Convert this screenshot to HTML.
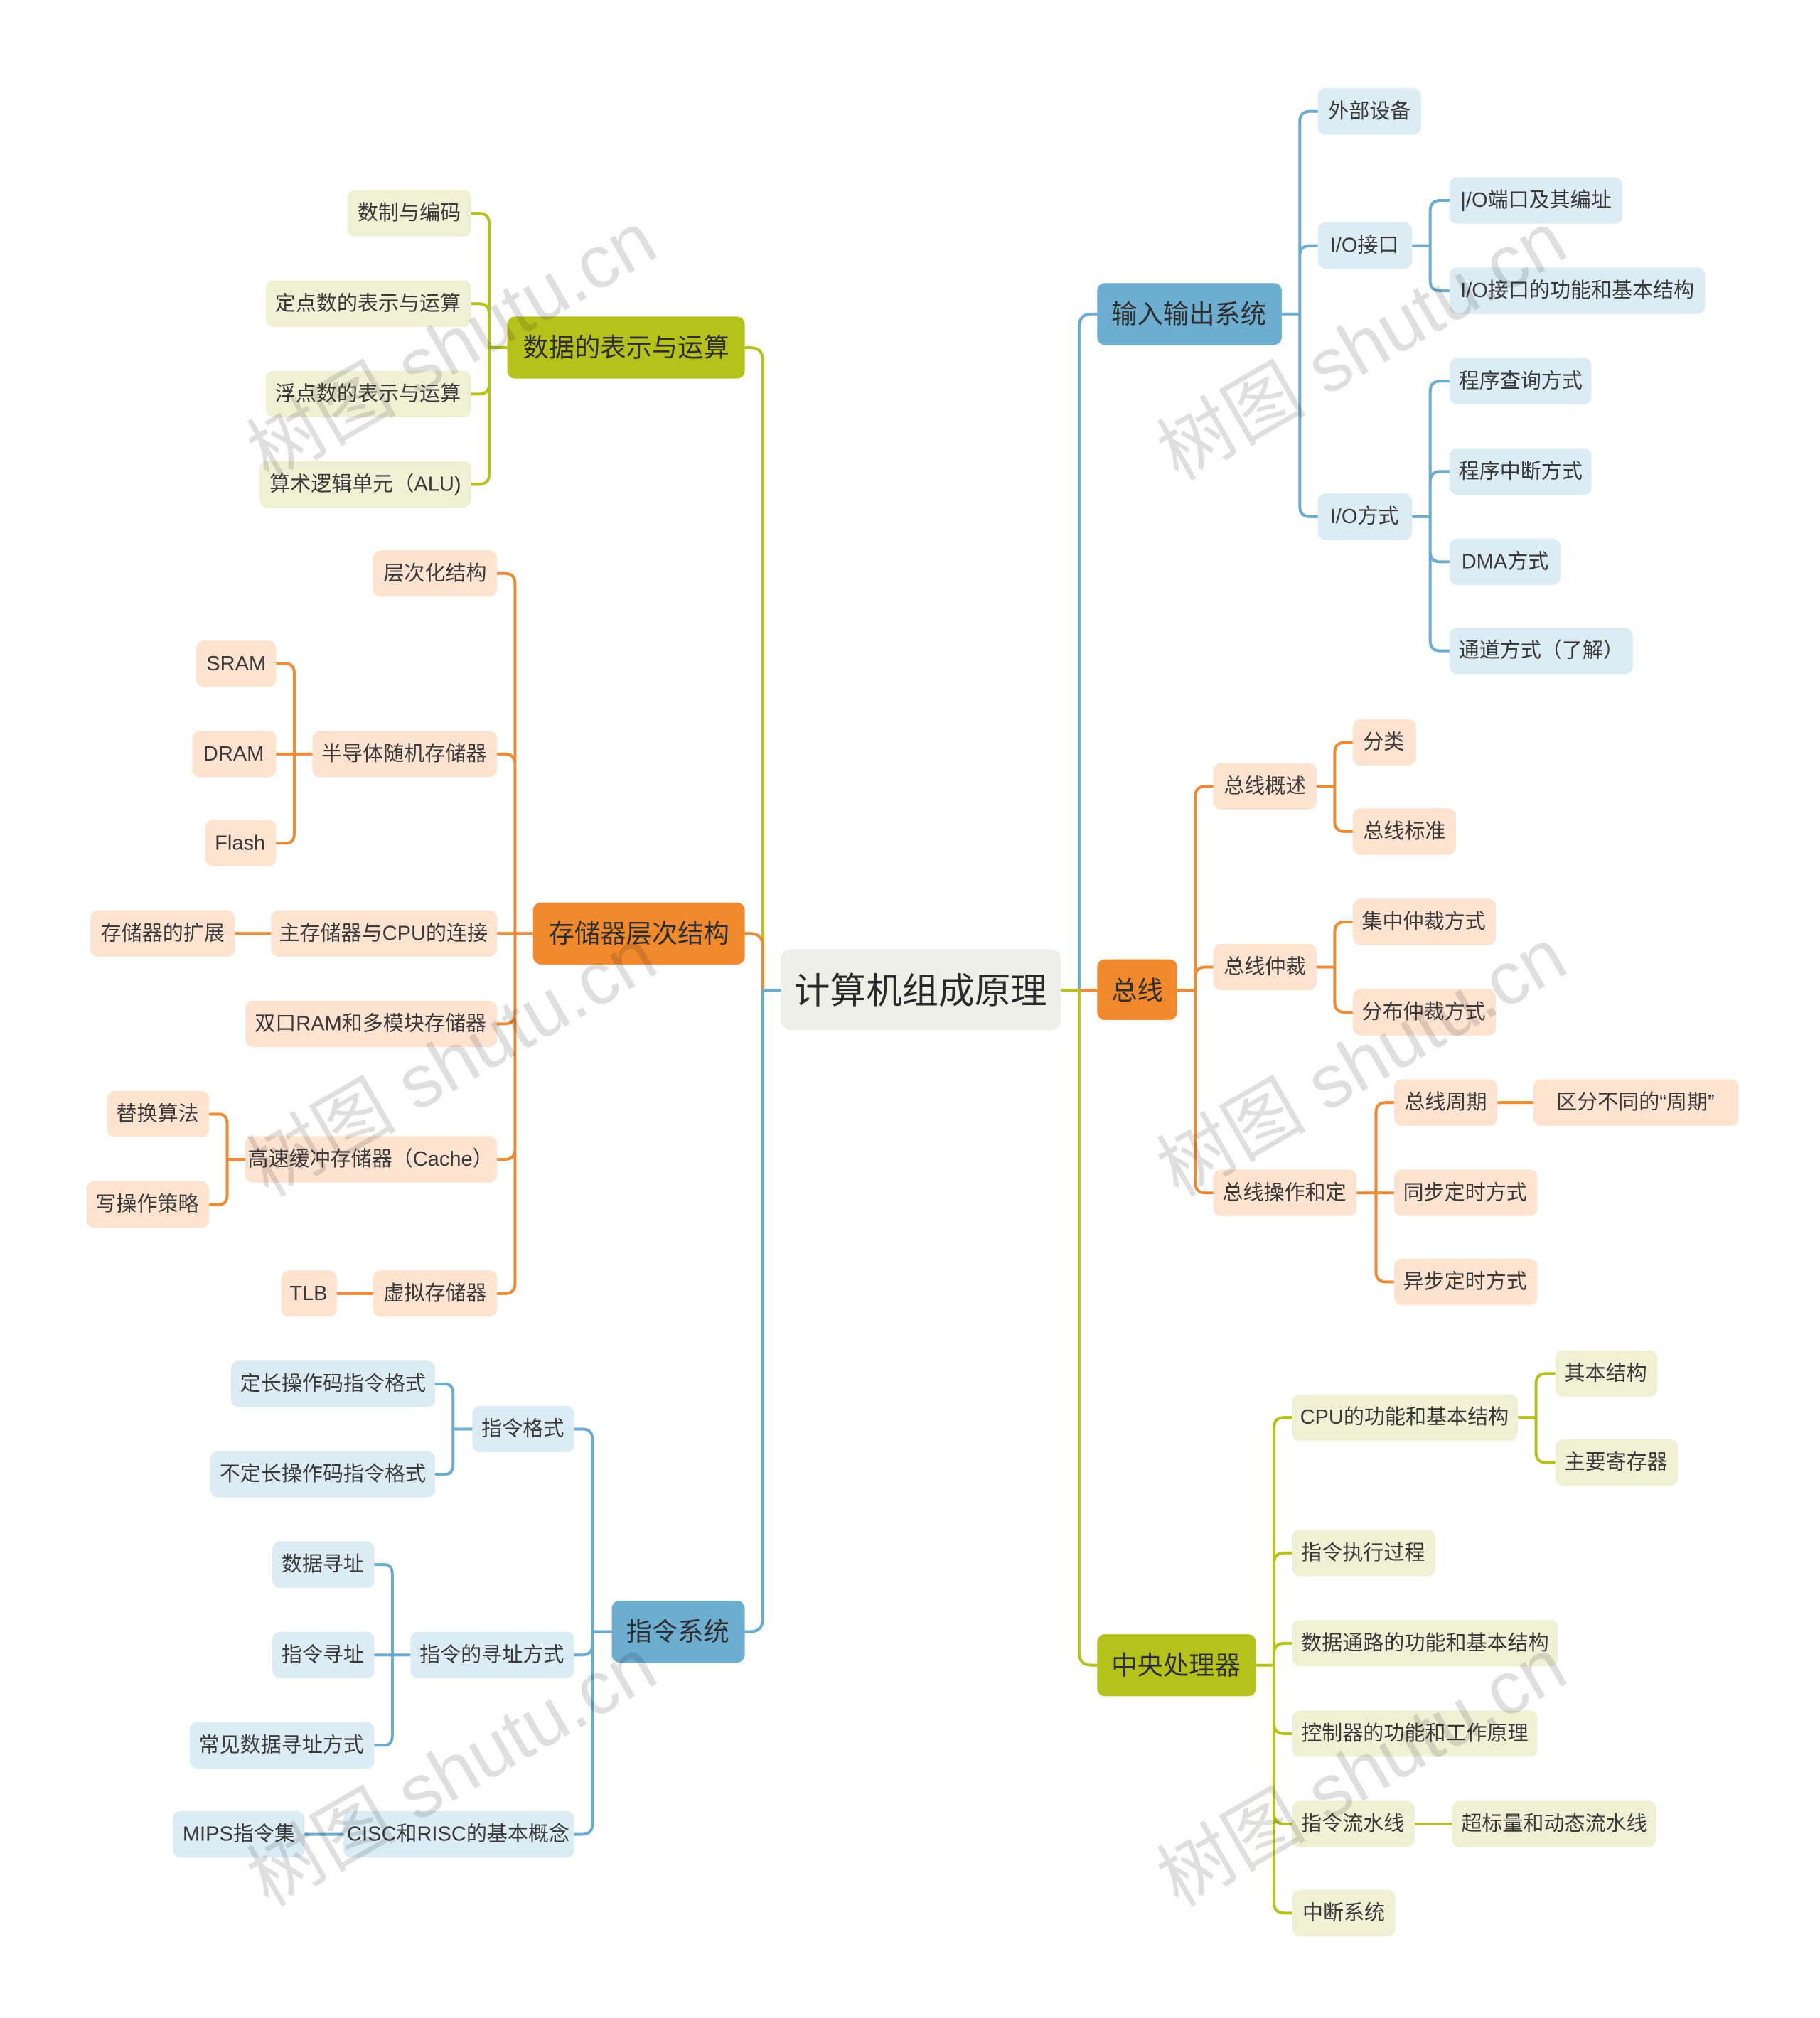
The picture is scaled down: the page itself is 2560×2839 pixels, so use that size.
<!DOCTYPE html>
<html><head><meta charset="utf-8">
<style>
html,body{margin:0;padding:0;background:#fff;}
svg{display:block;}
text{font-family:"Liberation Sans","Noto Sans CJK SC",sans-serif;}
.t{font-size:16px;fill:#3a3a3a;text-anchor:middle;}
.m{font-size:20px;fill:#2e2e2e;text-anchor:middle;}
.gl{fill:#eff0d4}.ol{fill:#fde3d0}.bl{fill:#dcecf5}
.lg{stroke:#b6c21c}.lo{stroke:#ee8a33}.lb{stroke:#6aaccf}
path{fill:none;stroke-width:2.2;}
.wm{font-size:58px;fill:#000;opacity:0.12;text-anchor:middle;}
</style></head><body>
<svg width="2560" height="2839" viewBox="0 0 1410 1563" xmlns="http://www.w3.org/2000/svg">
<!-- main connectors -->
<path class="lg" d="M605 767H598M598 767H591V279Q591 269 581 269H577"/>
<path class="lo" d="M598 767H591V733Q591 723 581 723H577"/>
<path class="lb" d="M605 767H591V1254Q591 1264 581 1264H577"/>
<path class="lb" d="M822 767H836V253Q836 243 846 243H850"/>
<path class="lo" d="M822 767H850"/>
<path class="lg" d="M822 767H836V1280Q836 1290 846 1290H850"/>

<!-- green left group -->
<path class="lg" d="M393 269H379V173Q379 165 371 165H365M379 269V243Q379 235 371 235H365M379 269V297Q379 305 371 305H365M379 269V367Q379 375 371 375H365"/>
<!-- orange left group -->
<path class="lo" d="M413 723H399V452Q399 444 391 444H385M399 723V592Q399 584 391 584H385M399 723H385M399 723V785Q399 793 391 793H385M399 723V890Q399 898 391 898H385M399 723V994Q399 1002 391 1002H385"/>
<path class="lo" d="M242 584H228V522Q228 514 222 514H214M228 584H214M228 584V645Q228 653 222 653H214"/>
<path class="lo" d="M210 723H182"/>
<path class="lo" d="M190 898H176V871Q176 863 170 863H162M176 898V925Q176 933 170 933H162"/>
<path class="lo" d="M289 1002H261"/>
<!-- blue left group -->
<path class="lb" d="M474 1264H459V1115Q459 1107 451 1107H445M459 1264V1274Q459 1282 451 1282H445M459 1264V1413Q459 1421 451 1421H445"/>
<path class="lb" d="M366 1107H351V1080Q351 1072 345 1072H337M351 1107V1134Q351 1142 345 1142H337"/>
<path class="lb" d="M318 1282H304V1220Q304 1212 298 1212H290M304 1282H290M304 1282V1344Q304 1352 298 1352H290"/>
<path class="lb" d="M266 1421H236"/>
<!-- blue right group -->
<path class="lb" d="M993 243H1007V94Q1007 86 1015 86H1021M1007 243V198Q1007 190 1015 190H1021M1007 243V392Q1007 400 1015 400H1021"/>
<path class="lb" d="M1094 190H1108V163Q1108 155 1116 155H1123M1108 190V217Q1108 225 1116 225H1123"/>
<path class="lb" d="M1094 400H1108V303Q1108 295 1116 295H1123M1108 400V373Q1108 365 1116 365H1123M1108 400V427Q1108 435 1116 435H1123M1108 400V496Q1108 504 1116 504H1123"/>
<!-- orange right group -->
<path class="lo" d="M912 767H926V617Q926 609 934 609H940M926 767V757Q926 749 934 749H940M926 767V916Q926 924 934 924H940"/>
<path class="lo" d="M1020 609H1034V583Q1034 575 1042 575H1048M1034 609V636Q1034 644 1042 644H1048"/>
<path class="lo" d="M1020 749H1034V722Q1034 714 1042 714H1048M1034 749V776Q1034 784 1042 784H1048"/>
<path class="lo" d="M1051 924H1066V862Q1066 854 1074 854H1080M1066 924H1080M1066 924V985Q1066 993 1074 993H1080"/>
<path class="lo" d="M1160 854H1188"/>
<!-- green right group -->
<path class="lg" d="M973 1290H987V1106Q987 1098 995 1098H1001M987 1290V1211Q987 1203 995 1203H1001M987 1290V1281Q987 1273 995 1273H1001M987 1290V1335Q987 1343 995 1343H1001M987 1290V1405Q987 1413 995 1413H1001M987 1290V1474Q987 1482 995 1482H1001"/>
<path class="lg" d="M1176 1098H1190V1072Q1190 1064 1198 1064H1205M1190 1098V1125Q1190 1133 1198 1133H1205"/>
<path class="lg" d="M1096 1413H1125"/>

<!-- center -->
<rect x="605" y="735" width="217" height="63" rx="8" fill="#efefe9"/>
<text x="713" y="777" style="font-size:28px;fill:#2a2a2a;text-anchor:middle">计算机组成原理</text>

<!-- main nodes -->
<rect x="393" y="245" width="184" height="48" rx="6" fill="#b6c21c"/><text class="m" x="485" y="276">数据的表示与运算</text>
<rect x="413" y="699" width="164" height="48" rx="6" fill="#f08a2c"/><text class="m" x="495" y="730">存储器层次结构</text>
<rect x="474" y="1240" width="103" height="48" rx="6" fill="#6cadd0"/><text class="m" x="525" y="1271">指令系统</text>
<rect x="850" y="219" width="143" height="48" rx="6" fill="#6cadd0"/><text class="m" x="921" y="250">输入输出系统</text>
<rect x="850" y="743" width="62" height="47" rx="6" fill="#f08a2c"/><text class="m" x="881" y="774">总线</text>
<rect x="850" y="1266" width="123" height="48" rx="6" fill="#b6c21c"/><text class="m" x="911" y="1297">中央处理器</text>

<!-- green left leaves -->
<rect class="gl" x="269" y="147" width="96" height="36" rx="6"/><text class="t" x="317" y="170">数制与编码</text>
<rect class="gl" x="206" y="217" width="159" height="36" rx="6"/><text class="t" x="285" y="240">定点数的表示与运算</text>
<rect class="gl" x="206" y="287" width="159" height="36" rx="6"/><text class="t" x="285" y="310">浮点数的表示与运算</text>
<rect class="gl" x="201" y="357" width="164" height="36" rx="6"/><text class="t" x="283" y="380">算术逻辑单元（ALU)</text>

<!-- orange left leaves -->
<rect class="ol" x="289" y="426" width="96" height="36" rx="6"/><text class="t" x="337" y="449">层次化结构</text>
<rect class="ol" x="242" y="566" width="143" height="36" rx="6"/><text class="t" x="313" y="589">半导体随机存储器</text>
<rect class="ol" x="210" y="705" width="175" height="36" rx="6"/><text class="t" x="297" y="728">主存储器与CPU的连接</text>
<rect class="ol" x="190" y="775" width="195" height="36" rx="6"/><text class="t" x="287" y="798">双口RAM和多模块存储器</text>
<rect class="ol" x="190" y="880" width="195" height="36" rx="6"/><text class="t" x="287" y="903">高速缓冲存储器（Cache）</text>
<rect class="ol" x="289" y="984" width="96" height="36" rx="6"/><text class="t" x="337" y="1007">虚拟存储器</text>
<rect class="ol" x="152" y="496" width="62" height="36" rx="6"/><text class="t" x="183" y="519">SRAM</text>
<rect class="ol" x="149" y="566" width="65" height="36" rx="6"/><text class="t" x="181" y="589">DRAM</text>
<rect class="ol" x="159" y="635" width="55" height="36" rx="6"/><text class="t" x="186" y="658">Flash</text>
<rect class="ol" x="70" y="705" width="112" height="36" rx="6"/><text class="t" x="126" y="728">存储器的扩展</text>
<rect class="ol" x="83" y="845" width="79" height="36" rx="6"/><text class="t" x="122" y="868">替换算法</text>
<rect class="ol" x="67" y="915" width="95" height="36" rx="6"/><text class="t" x="114" y="938">写操作策略</text>
<rect class="ol" x="218" y="984" width="43" height="36" rx="6"/><text class="t" x="239" y="1007">TLB</text>

<!-- blue left leaves -->
<rect class="bl" x="366" y="1089" width="79" height="36" rx="6"/><text class="t" x="405" y="1112">指令格式</text>
<rect class="bl" x="318" y="1264" width="127" height="36" rx="6"/><text class="t" x="381" y="1287">指令的寻址方式</text>
<rect class="bl" x="266" y="1403" width="179" height="36" rx="6"/><text class="t" x="355" y="1426">CISC和RISC的基本概念</text>
<rect class="bl" x="179" y="1054" width="158" height="36" rx="6"/><text class="t" x="258" y="1077">定长操作码指令格式</text>
<rect class="bl" x="163" y="1124" width="174" height="36" rx="6"/><text class="t" x="250" y="1147">不定长操作码指令格式</text>
<rect class="bl" x="211" y="1194" width="79" height="36" rx="6"/><text class="t" x="250" y="1217">数据寻址</text>
<rect class="bl" x="211" y="1264" width="79" height="36" rx="6"/><text class="t" x="250" y="1287">指令寻址</text>
<rect class="bl" x="147" y="1334" width="143" height="36" rx="6"/><text class="t" x="218" y="1357">常见数据寻址方式</text>
<rect class="bl" x="134" y="1403" width="102" height="36" rx="6"/><text class="t" x="185" y="1426">MIPS指令集</text>

<!-- blue right leaves -->
<rect class="bl" x="1021" y="68" width="80" height="36" rx="6"/><text class="t" x="1061" y="91">外部设备</text>
<rect class="bl" x="1021" y="172" width="73" height="36" rx="6"/><text class="t" x="1057" y="195">I/O接口</text>
<rect class="bl" x="1021" y="382" width="73" height="36" rx="6"/><text class="t" x="1057" y="405">I/O方式</text>
<rect class="bl" x="1123" y="137" width="134" height="36" rx="6"/><text class="t" x="1190" y="160">|/O端口及其编址</text>
<rect class="bl" x="1123" y="207" width="198" height="36" rx="6"/><text class="t" x="1222" y="230">I/O接口的功能和基本结构</text>
<rect class="bl" x="1123" y="277" width="110" height="36" rx="6"/><text class="t" x="1178" y="300">程序查询方式</text>
<rect class="bl" x="1123" y="347" width="110" height="36" rx="6"/><text class="t" x="1178" y="370">程序中断方式</text>
<rect class="bl" x="1123" y="417" width="86" height="36" rx="6"/><text class="t" x="1166" y="440">DMA方式</text>
<rect class="bl" x="1123" y="486" width="142" height="36" rx="6"/><text class="t" x="1194" y="509">通道方式（了解）</text>

<!-- orange right leaves -->
<rect class="ol" x="940" y="591" width="80" height="36" rx="6"/><text class="t" x="980" y="614">总线概述</text>
<rect class="ol" x="940" y="731" width="80" height="36" rx="6"/><text class="t" x="980" y="754">总线仲裁</text>
<rect class="ol" x="940" y="906" width="111" height="36" rx="6"/><text class="t" x="995" y="929">总线操作和定</text>
<rect class="ol" x="1048" y="557" width="49" height="36" rx="6"/><text class="t" x="1072" y="580">分类</text>
<rect class="ol" x="1048" y="626" width="80" height="36" rx="6"/><text class="t" x="1088" y="649">总线标准</text>
<rect class="ol" x="1048" y="696" width="111" height="36" rx="6"/><text class="t" x="1103" y="719">集中仲裁方式</text>
<rect class="ol" x="1048" y="766" width="111" height="36" rx="6"/><text class="t" x="1103" y="789">分布仲裁方式</text>
<rect class="ol" x="1080" y="836" width="80" height="36" rx="6"/><text class="t" x="1120" y="859">总线周期</text>
<rect class="ol" x="1080" y="906" width="111" height="36" rx="6"/><text class="t" x="1135" y="929">同步定时方式</text>
<rect class="ol" x="1080" y="975" width="111" height="36" rx="6"/><text class="t" x="1135" y="998">异步定时方式</text>
<rect class="ol" x="1188" y="836" width="159" height="36" rx="6"/><text class="t" x="1267" y="859">区分不同的“周期”</text>

<!-- green right leaves -->
<rect class="gl" x="1001" y="1080" width="175" height="36" rx="6"/><text class="t" x="1088" y="1103">CPU的功能和基本结构</text>
<rect class="gl" x="1001" y="1185" width="111" height="36" rx="6"/><text class="t" x="1056" y="1208">指令执行过程</text>
<rect class="gl" x="1001" y="1255" width="206" height="36" rx="6"/><text class="t" x="1104" y="1278">数据通路的功能和基本结构</text>
<rect class="gl" x="1001" y="1325" width="190" height="36" rx="6"/><text class="t" x="1096" y="1348">控制器的功能和工作原理</text>
<rect class="gl" x="1001" y="1395" width="95" height="36" rx="6"/><text class="t" x="1048" y="1418">指令流水线</text>
<rect class="gl" x="1001" y="1464" width="80" height="36" rx="6"/><text class="t" x="1041" y="1487">中断系统</text>
<rect class="gl" x="1205" y="1046" width="79" height="36" rx="6"/><text class="t" x="1244" y="1069">其本结构</text>
<rect class="gl" x="1205" y="1115" width="95" height="36" rx="6"/><text class="t" x="1252" y="1138">主要寄存器</text>
<rect class="gl" x="1125" y="1395" width="158" height="36" rx="6"/><text class="t" x="1204" y="1418">超标量和动态流水线</text>

<!-- watermarks -->
<text class="wm" transform="translate(360 285) rotate(-30)">树图 shutu.cn</text>
<text class="wm" transform="translate(360 840) rotate(-30)">树图 shutu.cn</text>
<text class="wm" transform="translate(360 1390) rotate(-30)">树图 shutu.cn</text>
<text class="wm" transform="translate(1065 285) rotate(-30)">树图 shutu.cn</text>
<text class="wm" transform="translate(1065 840) rotate(-30)">树图 shutu.cn</text>
<text class="wm" transform="translate(1065 1390) rotate(-30)">树图 shutu.cn</text>
</svg>
</body></html>
